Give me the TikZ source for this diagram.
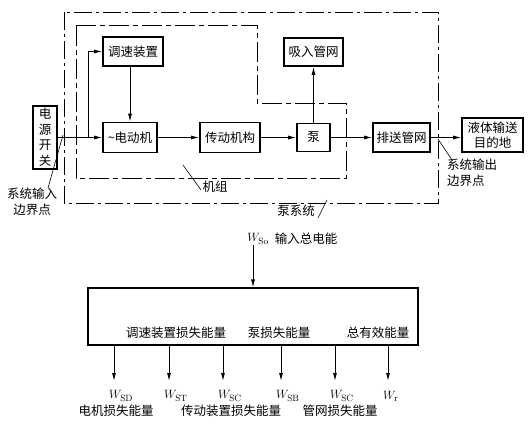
\documentclass[tikz,border=0pt]{standalone}
\usepackage{fontspec}
\newfontfamily\cjk{Noto Sans CJK SC}
\usetikzlibrary{arrows.meta}

\tikzset{
  blk/.style={draw, line width=1.6pt, minimum height=29pt},
  flow/.style={line width=0.9pt, -{Latex[length=8pt, width=4pt]}},
  outerbd/.style={line width=0.9pt, dash pattern=on 18pt off 4pt on 3pt off 4pt},
  innerbd/.style={line width=0.9pt, dash pattern=on 20pt off 4pt on 5pt off 4pt},
  lead/.style={line width=0.6pt},
}

\begin{document}
\begin{tikzpicture}[x=1pt, y=-1pt,
    every node/.style={font=\cjk\fontsize{12.5}{15.5}\selectfont, inner sep=0pt, align=center}]
    \useasboundingbox (0,0) rectangle (532,425);

    % Blocks of the pump system
    \node[blk, minimum width=24pt, minimum height=63pt] (pwr) at (45,137.5) {电\\源\\开\\关};
    \node[blk, minimum width=60pt] (spd) at (133,51.5) {调速装置};
    \node[blk, minimum width=54pt, minimum height=30pt] (mot) at (130,137.5) {\textasciitilde 电动机};
    \node[blk, minimum width=60pt, minimum height=30pt] (trn) at (230,137.5) {传动机构};
    \node[blk, minimum width=33pt, minimum height=28pt] (pump) at (313.5,137.5) {泵};
    \node[blk, minimum width=59pt, minimum height=28pt] (suc) at (313.5,52) {吸入管网};
    \node[blk, minimum width=57pt] (dis) at (401.5,137.5) {排送管网};
    \node[blk, minimum width=61pt, minimum height=34pt] (dst) at (492.5,135) {液体输送\\目的地};

    % System boundaries
    \draw[outerbd] (64,12) rectangle (438,203);
    \draw[innerbd] (76,25) -- (257,25) -- (257,103) -- (346,103) -- (346,178) -- (76,178) -- cycle;

    % Energy flow
    \coordinate (br) at (88,137.5);
    \draw[flow] (pwr.east) -- (mot.west);
    \draw[flow] (br) |- (spd.west);
    \draw[flow] (spd.south -| mot.north) -- (mot.north);
    \draw[flow] (mot.east) -- (trn.west);
    \draw[flow] (trn.east) -- (pump.west);
    \draw[flow] (pump.north) -- (suc.south);
    \draw[flow] (pump.east) -- (dis.west);
    \draw[flow] (dis.east) -- (dis.east -| dst.west);

    % Boundary labels
    \coordinate (inpt) at (63,135);
    \coordinate (inend) at (48,188);
    \node (inlbl) at (32,202) {系统输入\\边界点};
    \draw[lead] (inpt) -- (inend);
    \coordinate (outpt) at (438,139);
    \coordinate (outend) at (452,160);
    \node[anchor=west, align=left] (outlbl) at (447,173) {系统输出\\边界点};
    \draw[lead] (outpt) -- (outend);
    \coordinate (unitpt) at (183,165);
    \coordinate (unitend) at (201,190);
    \node (unitlbl) at (215,187) {机组};
    \draw[lead] (unitpt) -- (unitend);
    \coordinate (syspt) at (327,200);
    \coordinate (sysend) at (318,218);
    \node (syslbl) at (296,211) {泵系统};
    \draw[lead] (syspt) -- (sysend);

    % Energy balance
    \node[draw, line width=1.1pt, minimum width=330pt, minimum height=57pt] (bal) at (253,316.5) {};
    \node (win) at (258,239) {\fontsize{13}{15}\selectfont$W_{\mathrm{So}}$};
    \node (wintxt) at (306,239) {输入总电能};
    \draw[flow] (win.south -| bal.north) -- (bal.north);
    \node (lsspd) at (176,333) {调速装置损失能量};
    \node (lspump) at (279,333) {泵损失能量};
    \node (useful) at (378,333) {总有效能量};

    % Outputs of the balance
    \foreach \x/\n/\s in {114/sd/SD, 169/st/ST, 223/sc/SC, 281/sb/SB, 335/sn/SC, 388/sr/r} {
        \coordinate (t\n) at (\x,381);
        \draw[flow] (t\n |- bal.south) -- (t\n);
        \node[anchor=west] (w\n) at ({\x-5},396) {\fontsize{13}{15}\selectfont$W_{\mathrm{\s}}$};
    }
    \node (lsmot) at (116,411) {电机损失能量};
    \node (lstrn) at (231,411) {传动装置损失能量};
    \node (lsnet) at (340,411) {管网损失能量};
\end{tikzpicture}
\end{document}
